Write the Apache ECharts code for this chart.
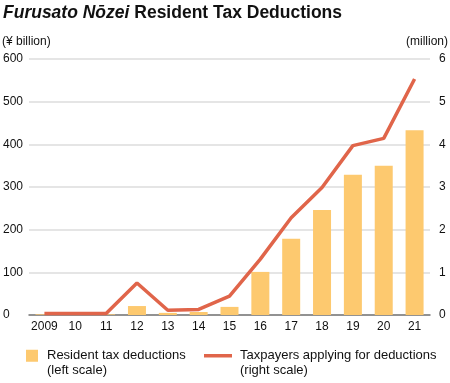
<!DOCTYPE html>
<html><head><meta charset="utf-8">
<script src="https://cdn.jsdelivr.net/npm/echarts@6/dist/echarts.min.js"></script>
<style>html,body{margin:0;padding:0;background:#fff}#c{width:450px;height:383px}</style>
</head><body><div id="c"></div>
<script>
const years = ['2009','10','11','12','13','14','15','16','17','18','19','20','21'];
const deductions = [1.5, 1, 1.5, 21, 5, 7, 19, 101, 179, 246, 329, 350, 433];
const applicants = [0.033, 0.033, 0.035, 0.75, 0.11, 0.13, 0.44, 1.31, 2.28, 2.99, 3.97, 4.14, 5.53];
const leftTicks = {min: 0, max: 600, interval: 100};
const rightTicks = {min: 0, max: 6, interval: 1};
const barName = 'Resident tax deductions';
const barNote = '(left scale)';
const lineName = 'Taxpayers applying for deductions';
const lineNote = '(right scale)';

const FONT = "'Liberation Sans', Arial, Helvetica, sans-serif";
const chart = echarts.init(document.getElementById('c'), null, {renderer: 'canvas'});
const notes = {};
notes[barName] = barNote;
notes[lineName] = lineNote;
const legendText = {fontFamily: FONT, fontSize: 13, color: '#111', lineHeight: 14.5};
chart.setOption({
  animation: false,
  textStyle: {fontFamily: FONT},
  title: [
    {text: '{i|Furusato Nōzei} Resident Tax Deductions', left: 3, top: 4, padding: 0,
      textStyle: {fontFamily: FONT, fontSize: 17.5, fontWeight: 'bold', color: '#111',
        rich: {i: {fontFamily: FONT, fontSize: 17.5, fontWeight: 'bold', fontStyle: 'italic', color: '#111'}}}},
    {text: '(¥ billion)', left: 2, top: 36, padding: 0, textStyle: {fontFamily: FONT, fontSize: 12, fontWeight: 'normal', color: '#111'}},
    {text: '(million)', right: 2, top: 36, padding: 0, textStyle: {fontFamily: FONT, fontSize: 12, fontWeight: 'normal', color: '#111'}}
  ],
  grid: {left: 28, right: 20, top: 59, bottom: 68},
  legend: [
    {data: [{name: barName, icon: 'rect'}], left: 26, top: 334, padding: 0,
      itemWidth: 12, itemHeight: 12,
      formatter: n => ' \n' + n + '\n' + notes[n],
      textStyle: Object.assign({padding: [0, 0, 0, 4]}, legendText)},
    {data: [{name: lineName, icon: 'rect', itemStyle: {color: '#E0654A'}}], left: 204, top: 334, padding: 0,
      itemWidth: 28, itemHeight: 3.5,
      formatter: n => ' \n' + n + '\n' + notes[n],
      textStyle: Object.assign({padding: [0, 0, 0, 3]}, legendText)}
  ],
  xAxis: {type: 'category', data: years,
    axisLine: {lineStyle: {color: '#777', width: 1.5}}, axisTick: {show: false},
    axisLabel: {fontFamily: FONT, fontSize: 12, color: '#111', margin: 6, interval: 0}},
  yAxis: [
    {type: 'value', min: leftTicks.min, max: leftTicks.max, interval: leftTicks.interval,
      axisLine: {show: false}, axisTick: {show: false},
      axisLabel: {fontFamily: FONT, fontSize: 12, color: '#111', align: 'left', margin: 26},
      splitLine: {lineStyle: {color: '#dcdcdc', width: 1.5}}},
    {type: 'value', min: rightTicks.min, max: rightTicks.max, interval: rightTicks.interval,
      axisLine: {show: false}, axisTick: {show: false},
      axisLabel: {fontFamily: FONT, fontSize: 12, color: '#111', align: 'left', margin: 9},
      splitLine: {show: false}}
  ],
  series: [
    {name: barName, type: 'bar', data: deductions, yAxisIndex: 0,
      barWidth: 18, itemStyle: {color: '#FDC96F'}, z: 2},
    {name: lineName, type: 'line', data: applicants, yAxisIndex: 1,
      symbol: 'none', lineStyle: {color: '#E0654A', width: 3.5}, itemStyle: {color: '#E0654A'}, z: 3}
  ]
});
</script></body></html>
